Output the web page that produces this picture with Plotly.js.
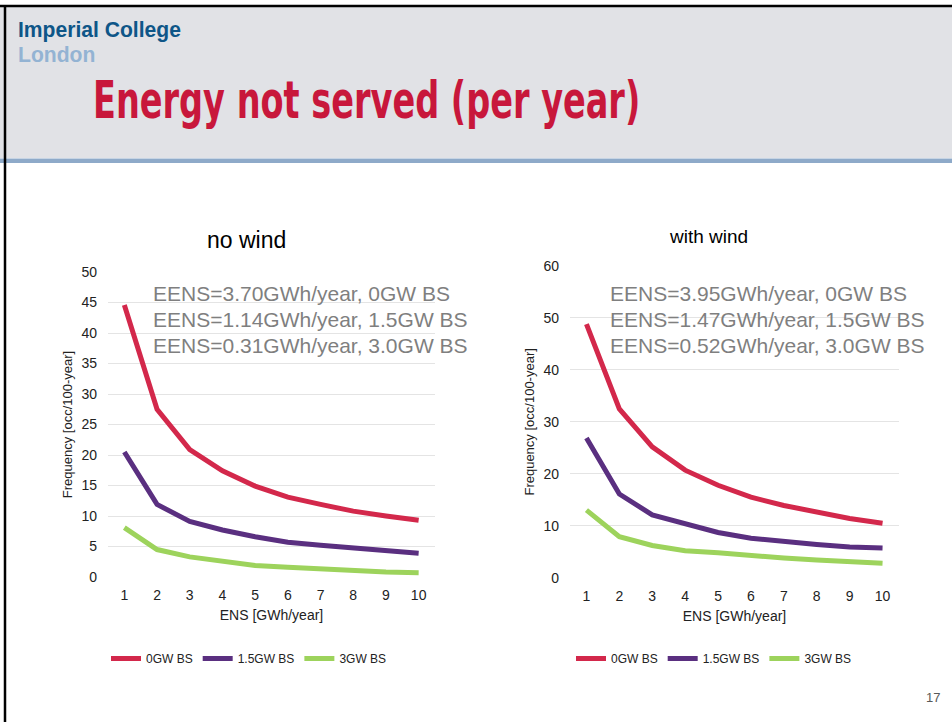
<!DOCTYPE html>
<html>
<head>
<meta charset="utf-8">
<script src="https://cdn.plot.ly/plotly-3.0.1.min.js"></script>
<style>
  html, body { margin: 0; padding: 0; background: #ffffff; }
  #wrap { position: relative; width: 952px; height: 722px; overflow: hidden; }
  #chart { position: absolute; left: 0; top: 0; width: 952px; height: 722px; }
  .hdr { position: absolute; white-space: nowrap; transform-origin: 0 0; }
  #logo { left: 18px; top: 17px; font-family: "Liberation Sans", Arial, sans-serif; font-weight: bold; font-size: 22px; line-height: 25px; }
  #logo .l1 { color: #0e5688; }
  #logo .l2 { color: #93b3d3; }
  #title { left: 93px; top: 72px; font-family: "DejaVu Sans Condensed", "DejaVu Sans", sans-serif; font-weight: bold; font-size: 52px; line-height: 1.1; color: #c8173b; }
</style>
</head>
<body>
<div id="wrap">
  <div id="chart"></div>
  <div class="hdr" id="logo"><span class="l1">Imperial College</span><br><span class="l2">London</span></div>
  <div class="hdr" id="title">Energy not served (per year)</div>
</div>
<script>
// ---- data ----
var ensValues = [1, 2, 3, 4, 5, 6, 7, 8, 9, 10];
var seriesNames = ["0GW BS", "1.5GW BS", "3GW BS"];
var noWind0GW  = [44.6, 27.5, 20.9, 17.4, 14.9, 13.1, 11.9, 10.8, 10.0, 9.3];
var noWind15GW = [20.5, 11.9, 9.1, 7.7, 6.6, 5.7, 5.2, 4.8, 4.4, 3.9];
var noWind3GW  = [8.1, 4.5, 3.3, 2.5, 1.9, 1.6, 1.3, 1.0, 0.8, 0.7];
var wind0GW    = [48.8, 32.5, 25.2, 20.7, 17.8, 15.5, 13.9, 12.6, 11.4, 10.5];
var wind15GW   = [26.9, 16.1, 12.1, 10.3, 8.7, 7.6, 6.9, 6.4, 5.9, 5.7];
var wind3GW    = [13.0, 7.9, 6.2, 5.2, 4.8, 4.2, 3.8, 3.4, 3.1, 2.8];
var noWindEENS = ["EENS=3.70GWh/year, 0GW BS", "EENS=1.14GWh/year, 1.5GW BS", "EENS=0.31GWh/year, 3.0GW BS"];
var windEENS   = ["EENS=3.95GWh/year, 0GW BS", "EENS=1.47GWh/year, 1.5GW BS", "EENS=0.52GWh/year, 3.0GW BS"];
var chartTitles = ["no wind", "with wind"];
var xTitle = "ENS [GWh/year]";
var yTitle = "Frequency [occ/100-year]";
var pageNumber = "17";

// ---- styles ----
var colors = ["#d3284b", "#5a2f80", "#9dd35c"];
var W = 952, H = 722;
function px(x) { return x / W; }
function py(y) { return 1 - y / H; }
var font = "Liberation Sans, Arial, sans-serif";

var traces = [];
[[noWind0GW, noWind15GW, noWind3GW], [wind0GW, wind15GW, wind3GW]].forEach(function (grp, gi) {
  grp.forEach(function (vals, si) {
    traces.push({
      x: ensValues, y: vals, type: "scatter", mode: "lines",
      name: seriesNames[si],
      line: { color: colors[si], width: 5 },
      xaxis: gi === 0 ? "x" : "x2", yaxis: gi === 0 ? "y" : "y2",
      legend: gi === 0 ? "legend" : "legend2",
      hoverinfo: "x+y"
    });
  });
});

var xBase = {
  range: [0.5, 10.5], tickmode: "linear", tick0: 1, dtick: 1,
  showgrid: false, zeroline: false, showline: false, ticks: "",
  tickfont: { family: font, size: 14, color: "#222" },
  ticklabelstandoff: 8,
  title: { text: xTitle, font: { family: font, size: 14, color: "#222" }, standoff: 8 },
  fixedrange: true
};
var yBase = {
  showgrid: true, gridcolor: "#e4e4e4", gridwidth: 1, zeroline: false, showline: false, ticks: "",
  tickfont: { family: font, size: 14, color: "#222" },
  title: { text: yTitle, font: { family: font, size: 13, color: "#222" }, standoff: 5 },
  ticklabelstandoff: 10,
  fixedrange: true
};

var annotations = [
  { text: chartTitles[0], xref: "paper", yref: "paper", x: px(246), y: py(240), xanchor: "center", yanchor: "middle", showarrow: false, font: { family: font, size: 23, color: "#000" } },
  { text: chartTitles[1], xref: "paper", yref: "paper", x: px(708), y: py(236), xanchor: "center", yanchor: "middle", showarrow: false, font: { family: font, size: 19, color: "#000" } },
  { text: pageNumber, xref: "paper", yref: "paper", x: px(933), y: py(697), xanchor: "center", yanchor: "middle", showarrow: false, font: { family: font, size: 13, color: "#595959" } }
];
noWindEENS.forEach(function (t, i) {
  annotations.push({ text: t, xref: "paper", yref: "paper", x: px(151), y: py(293 + 26 * i), xanchor: "left", yanchor: "middle", showarrow: false, font: { family: font, size: 21, color: "#7f7f7f" } });
});
windEENS.forEach(function (t, i) {
  annotations.push({ text: t, xref: "paper", yref: "paper", x: px(608), y: py(293 + 26 * i), xanchor: "left", yanchor: "middle", showarrow: false, font: { family: font, size: 21, color: "#7f7f7f" } });
});

var legendFont = { family: "Liberation Sans Narrow, Liberation Sans, sans-serif", size: 12, color: "#222" };

var layout = {
  width: W, height: H,
  margin: { l: 0, r: 0, t: 0, b: 0 },
  paper_bgcolor: "#ffffff", plot_bgcolor: "rgba(0,0,0,0)",
  showlegend: true,
  xaxis: Object.assign({}, xBase, { domain: [px(108), px(435)], anchor: "y" }),
  yaxis: Object.assign({}, yBase, { domain: [py(577), py(272)], range: [0, 50], dtick: 5, anchor: "x" }),
  xaxis2: Object.assign({}, xBase, { domain: [px(570), px(899)], anchor: "y2" }),
  yaxis2: Object.assign({}, yBase, { domain: [py(577.7), py(266)], range: [0, 60], dtick: 10, anchor: "x2" }),
  legend: {
    orientation: "h", x: px(106), y: py(644), xanchor: "left", yanchor: "top",
    font: legendFont, bgcolor: "rgba(0,0,0,0)", itemwidth: 30, tracegroupgap: 0
  },
  legend2: {
    orientation: "h", x: px(571), y: py(644), xanchor: "left", yanchor: "top",
    font: legendFont, bgcolor: "rgba(0,0,0,0)", itemwidth: 30, tracegroupgap: 0
  },
  shapes: [
    { type: "rect", xref: "paper", yref: "paper", x0: 0, x1: 1, y0: py(158), y1: py(6), fillcolor: "#e1e2e6", line: { width: 0 }, layer: "below" },
    { type: "rect", xref: "paper", yref: "paper", x0: 0, x1: 1, y0: py(163), y1: py(158.5), fillcolor: "#8eaac9", line: { width: 0 }, layer: "below" },
    { type: "line", xref: "paper", yref: "paper", x0: 0, x1: 1, y0: py(6), y1: py(6), line: { color: "#000", width: 2.5 } },
    { type: "line", xref: "paper", yref: "paper", x0: px(5), x1: px(5), y0: 0, y1: py(5), line: { color: "#000", width: 2.5 } }
  ],
  annotations: annotations
};

Plotly.newPlot("chart", traces, layout, { displayModeBar: false, staticPlot: true });

// fit the header texts to the widths they have in the slide (offsetWidth ignores transforms)
function fit(id, targetW) {
  var el = document.getElementById(id);
  var w = el.offsetWidth;
  el.style.transform = "scaleX(" + (targetW / w) + ")";
}
function fitAll() {
  fit("logo", 163);
  fit("title", 547);
}
fitAll();
if (document.fonts && document.fonts.ready) { document.fonts.ready.then(fitAll); }
</script>
</body>
</html>
